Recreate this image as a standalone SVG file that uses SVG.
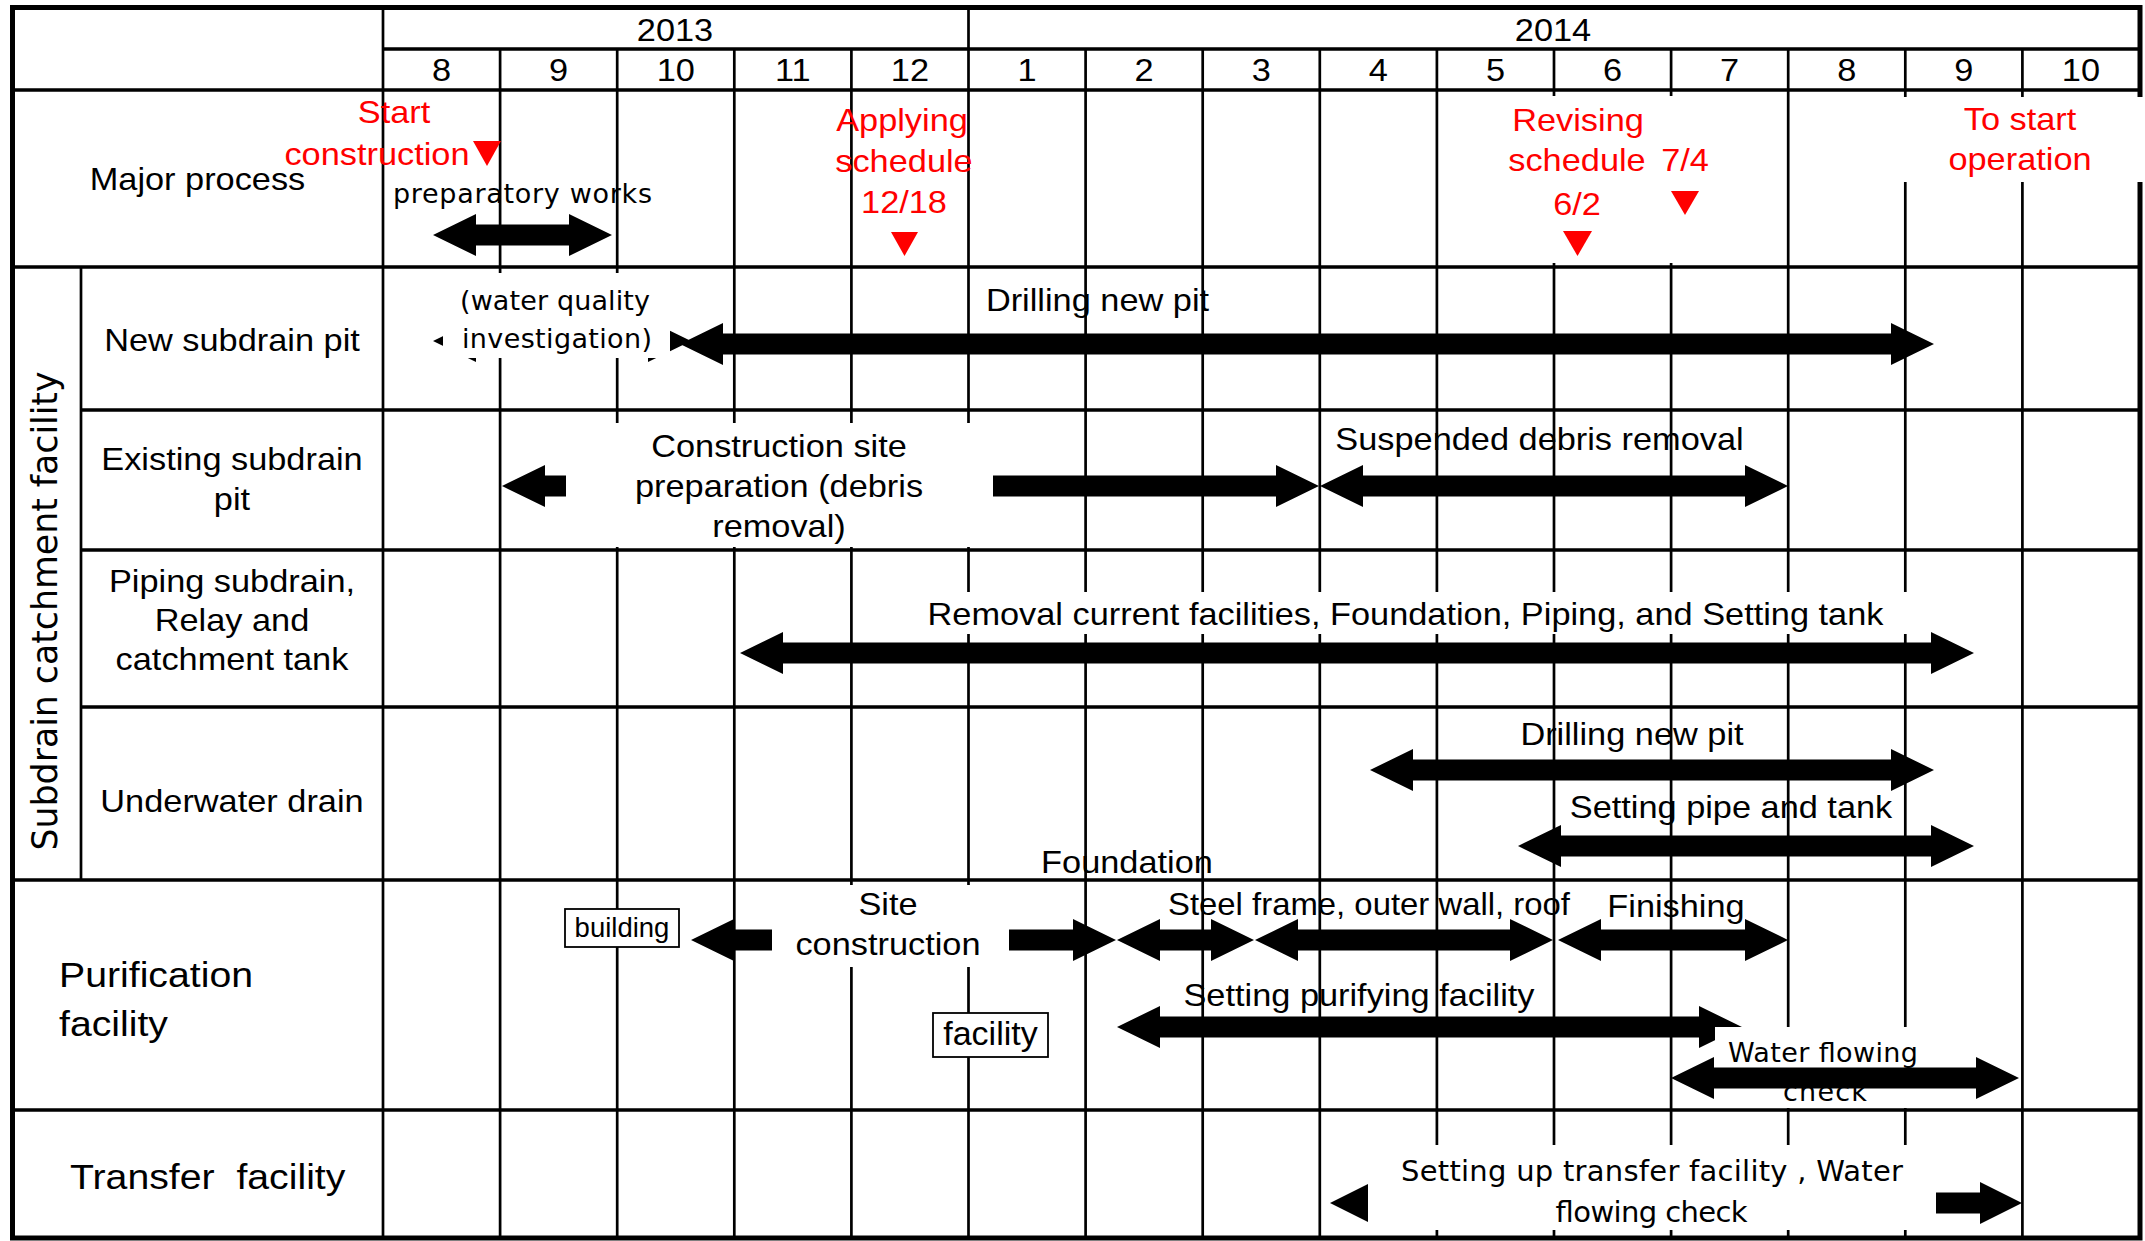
<svg xmlns="http://www.w3.org/2000/svg" width="2145" height="1241" viewBox="0 0 2145 1241">
<style>
.t{font-family:"Liberation Sans",Arial,sans-serif;font-size:31.5px;fill:#000}
.big{font-size:36px}
.m{text-anchor:middle}
.r{fill:#ff0000}
.j{font-family:"DejaVu Sans",sans-serif;font-size:27px;fill:#000}
.j2{font-size:29px}
.vl{stroke:#000;stroke-width:2.7;fill:none}
.hl{stroke:#000;stroke-width:3.3;fill:none}
.wb{fill:#fff}
.arr{fill:#000}
.mk{fill:#ff0000}
.bx{fill:#fff;stroke:#000;stroke-width:1.8}
</style>
<rect width="2145" height="1241" fill="#fff"/>
<g id="grid">
<path class="vl" d="M383,7V1238 M968.5,7V1238 M500.1,49V1238 M617.2,49V1238 M734.3,49V1238 M851.4,49V1238 M1085.6,49V1238 M1202.7,49V1238 M1319.8,49V1238 M1436.9,49V1238 M1554,49V1238 M1671.1,49V1238 M1788.2,49V1238 M1905.3,49V1238 M2022.4,49V1238 M81,267V880"/>
<path class="hl" d="M383,49H2140 M12,90H2140 M12,267H2140 M81,410H2140 M81,550H2140 M81,707H2140 M12,880H2140 M12,1110H2140"/>
<rect x="12.5" y="7.5" width="2127.5" height="1230.5" fill="none" stroke="#000" stroke-width="5"/>
</g>
<g id="connectors-under">
<path class="arr" d="M433,341 L476,320 L476,330.5 L648,330.5 L648,320 L691,341 L648,362 L648,351.5 L476,351.5 L476,362 Z"/>
<path class="arr" d="M502,486 L545,465 L545,475.5 L1276,475.5 L1276,465 L1319,486 L1276,507 L1276,496.5 L545,496.5 L545,507 Z"/>
<path class="arr" d="M691,940 L734,919 L734,929.5 L1073,929.5 L1073,919 L1116,940 L1073,961 L1073,950.5 L734,950.5 L734,961 Z"/>
<path class="arr" d="M1330,1203 L1372,1182 L1372,1192.5 L1980,1192.5 L1980,1182 L2022,1203 L1980,1224 L1980,1213.5 L1372,1213.5 L1372,1224 Z"/>
<path class="arr" d="M1117,1027 L1160,1006 L1160,1016.5 L1699,1016.5 L1699,1006 L1742,1027 L1699,1048 L1699,1037.5 L1160,1037.5 L1160,1048 Z"/>
</g>
<g id="label-boxes">
<rect class="wb" x="1500" y="96" width="220" height="167"/>
<rect class="wb" x="1890" y="97" width="255" height="85"/>
<rect class="wb" x="443" y="273" width="227" height="85"/>
<rect class="wb" x="566" y="423" width="427" height="124"/>
<rect class="wb" x="920" y="592" width="995" height="42"/>
<rect class="wb" x="772" y="885" width="237" height="82"/>
<rect class="wb" x="1715" y="1027" width="220" height="81"/>
<rect class="wb" x="1368" y="1145" width="568" height="85"/>
</g>
<g id="header" class="t" transform="scale(1.09,1)">
<text class="m" x="619.27" y="41">2013</text>
<text class="m" x="1424.77" y="41">2014</text>
<text class="m" x="405.09" y="81.5">8</text>
<text class="m" x="512.52" y="81.5">9</text>
<text class="m" x="619.95" y="81.5">10</text>
<text class="m" x="727.39" y="81.5">11</text>
<text class="m" x="834.82" y="81.5">12</text>
<text class="m" x="942.25" y="81.5">1</text>
<text class="m" x="1049.68" y="81.5">2</text>
<text class="m" x="1157.11" y="81.5">3</text>
<text class="m" x="1264.54" y="81.5">4</text>
<text class="m" x="1371.97" y="81.5">5</text>
<text class="m" x="1479.4" y="81.5">6</text>
<text class="m" x="1586.83" y="81.5">7</text>
<text class="m" x="1694.27" y="81.5">8</text>
<text class="m" x="1801.7" y="81.5">9</text>
<text class="m" x="1909.13" y="81.5">10</text>
</g>
<g id="row-labels" class="t" transform="scale(1.09,1)">
<text class="m" x="181.19" y="190">Major process</text>
<text class="m" x="212.84" y="351">New subdrain pit</text>
<text class="m" x="212.84" y="470">Existing subdrain</text>
<text class="m" x="212.84" y="510">pit</text>
<text class="m" x="212.84" y="592">Piping subdrain,</text>
<text class="m" x="212.84" y="631">Relay and</text>
<text class="m" x="212.84" y="670">catchment tank</text>
<text class="m" x="212.84" y="812">Underwater drain</text>
<text class="big" x="54.13" y="987">Purification</text>
<text class="big" x="54.13" y="1036">facility</text>
<text class="big" x="64.22" y="1189" xml:space="preserve">Transfer  facility</text>
</g>
<g id="section-subdrain">
<text transform="translate(57,611) rotate(-90)" text-anchor="middle" font-family="DejaVu Sans, sans-serif" font-size="35" textLength="479" lengthAdjust="spacingAndGlyphs">Subdrain catchment facility</text>
</g>
<g id="milestones">
<g class="t r" transform="scale(1.09,1)">
<text class="m r" x="361.47" y="123">Start</text>
<text class="m r" x="345.87" y="165">construction</text>
<text class="m r" x="827.52" y="131">Applying</text>
<text class="m r" x="829.36" y="172">schedule</text>
<text class="m r" x="829.36" y="213">12/18</text>
<text class="m r" x="1447.71" y="131">Revising</text>
<text class="m r" x="1446.79" y="171">schedule</text>
<text class="m r" x="1446.79" y="215">6/2</text>
<text class="m r" x="1545.87" y="171">7/4</text>
<text class="m r" x="1853.21" y="130">To start</text>
<text class="m r" x="1853.21" y="170">operation</text>
</g>
<polygon class="mk" points="473,141 501,141 487,166"/>
<polygon class="mk" points="891,232 918,232 904.5,256"/>
<polygon class="mk" points="1563,231 1592,231 1577.5,256"/>
<polygon class="mk" points="1671,191 1699,191 1685,215"/>
</g>
<g id="task-labels" class="t" transform="scale(1.09,1)">
<text class="m" x="1006.88" y="311">Drilling new pit</text>
<text class="m" x="714.68" y="457">Construction site</text>
<text class="m" x="714.68" y="497">preparation (debris</text>
<text class="m" x="714.68" y="537">removal)</text>
<text class="m" x="1412.39" y="450">Suspended debris removal</text>
<text class="m" x="1289.45" y="625">Removal current facilities, Foundation, Piping, and Setting tank</text>
<text class="m" x="1497.25" y="745.5">Drilling new pit</text>
<text class="m" x="1588.07" y="818">Setting pipe and tank</text>
<text class="m" x="1033.94" y="873">Foundation</text>
<text class="m" x="814.68" y="915">Site</text>
<text class="m" x="814.68" y="955">construction</text>
<text class="m" x="1255.96" y="915" textLength="368.8" lengthAdjust="spacingAndGlyphs">Steel frame, outer wall, roof</text>
<text class="m" x="1537.61" y="917">Finishing</text>
<text class="m" x="1246.79" y="1006">Setting purifying facility</text>
</g>
<g id="task-labels-2" class="j">
<text x="393" y="203" textLength="259" lengthAdjust="spacing">preparatory works</text>
<text x="460" y="310" textLength="190" lengthAdjust="spacing">(water quality</text>
<text x="462" y="348" textLength="190" lengthAdjust="spacing">investigation)</text>
<text x="1728" y="1062" textLength="190" lengthAdjust="spacing">Water flowing</text>
<text x="1783" y="1101" textLength="84" lengthAdjust="spacing">check</text>
<text class="j2" x="1401" y="1181" textLength="502" lengthAdjust="spacing">Setting up transfer facility , Water</text>
<text class="j2" x="1555" y="1222" textLength="192" lengthAdjust="spacing">flowing check</text>
</g>
<g id="tag-building">
<rect class="bx" x="565" y="909" width="114" height="38"/>
<text x="622" y="937" text-anchor="middle" font-family="Liberation Sans, Arial, sans-serif" font-size="27.5">building</text>
</g>
<g id="tag-facility">
<rect class="bx" x="933" y="1013" width="115" height="44"/>
<text x="990.5" y="1045" text-anchor="middle" font-family="Liberation Sans, Arial, sans-serif" font-size="34">facility</text>
</g>
<g id="connectors">
<path class="arr" d="M433,235 L476,214 L476,224.5 L569,224.5 L569,214 L612,235 L569,256 L569,245.5 L476,245.5 L476,256 Z"/>
<path class="arr" d="M680,344 L723,323 L723,333.5 L1891,333.5 L1891,323 L1934,344 L1891,365 L1891,354.5 L723,354.5 L723,365 Z"/>
<path class="arr" d="M1320,486 L1363,465 L1363,475.5 L1745,475.5 L1745,465 L1788,486 L1745,507 L1745,496.5 L1363,496.5 L1363,507 Z"/>
<path class="arr" d="M740,653 L783,632 L783,642.5 L1931,642.5 L1931,632 L1974,653 L1931,674 L1931,663.5 L783,663.5 L783,674 Z"/>
<path class="arr" d="M1370,770 L1413,749 L1413,759.5 L1891,759.5 L1891,749 L1934,770 L1891,791 L1891,780.5 L1413,780.5 L1413,791 Z"/>
<path class="arr" d="M1518,846 L1561,825 L1561,835.5 L1931,835.5 L1931,825 L1974,846 L1931,867 L1931,856.5 L1561,856.5 L1561,867 Z"/>
<path class="arr" d="M1117,940 L1160,919 L1160,929.5 L1211,929.5 L1211,919 L1254,940 L1211,961 L1211,950.5 L1160,950.5 L1160,961 Z"/>
<path class="arr" d="M1255,940 L1298,919 L1298,929.5 L1510,929.5 L1510,919 L1553,940 L1510,961 L1510,950.5 L1298,950.5 L1298,961 Z"/>
<path class="arr" d="M1558,940 L1601,919 L1601,929.5 L1745,929.5 L1745,919 L1788,940 L1745,961 L1745,950.5 L1601,950.5 L1601,961 Z"/>
<path class="arr" d="M1671,1078 L1714,1057 L1714,1067.5 L1976,1067.5 L1976,1057 L2019,1078 L1976,1099 L1976,1088.5 L1714,1088.5 L1714,1099 Z"/>
</g>
</svg>
